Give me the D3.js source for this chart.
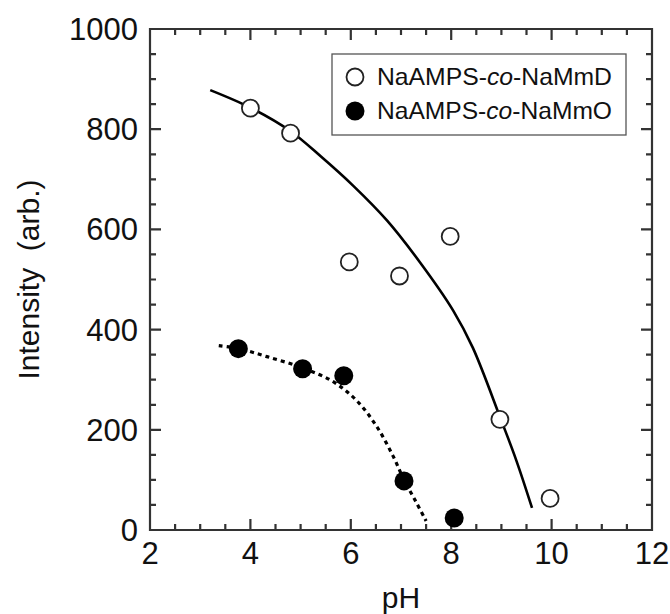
<!DOCTYPE html>
<html>
<head>
<meta charset="utf-8">
<script src="https://cdn.jsdelivr.net/npm/d3@7"></script>
<style>
  body { margin: 0; background: #fff; }
  svg { display: block; font-family: "Liberation Sans", Arial, Helvetica, sans-serif; }
</style>
</head>
<body>
<svg id="chart" width="670" height="614"></svg>
<script>
// ---- data ----
const phD = [4.0, 4.8, 5.97, 6.97, 7.98, 8.97, 9.97];
const intD = [842, 792, 535, 507, 586, 221, 63];
const phO = [3.76, 5.04, 5.86, 7.06, 8.06];
const intO = [362, 322, 308, 98, 24];
// fitted curves
const fitDx = [3.2, 4.0, 4.8, 5.4, 6.04, 6.72, 7.38, 8.04, 8.43, 8.97, 9.3, 9.61];
const fitDy = [878, 843, 796, 746, 688, 618, 534, 438, 364, 226, 138, 44];
const fitOx = [3.37, 3.77, 4.33, 5.03, 5.65, 6.12, 6.52, 6.84, 7.06, 7.3, 7.5];
const fitOy = [368, 362, 346, 324, 296, 258, 206, 148, 100, 56, 18];
const seriesNames = ["NaAMPS-", "co", "-NaMmD", "-NaMmO"];
const xMajor = [2, 4, 6, 8, 10, 12];
const yMajor = [0, 200, 400, 600, 800, 1000];
const xMinor = [2.5, 3, 3.5, 4.5, 5, 5.5, 6.5, 7, 7.5, 8.5, 9, 9.5, 10.5, 11, 11.5];
const yMinor = [50, 100, 150, 250, 300, 350, 450, 500, 550, 650, 700, 750, 850, 900, 950];

// ---- layout ----
const L = 150, R = 652, T = 29, B = 530;
const svg = d3.select("#chart");
const x = d3.scaleLinear().domain([2, 12]).range([L, R]);
const y = d3.scaleLinear().domain([0, 1000]).range([B, T]);
const frameColor = "#333";
const MAJ = 11, MIN = 6;

// frame + inward ticks, one path
const xt = xMajor.map(v => [v, MAJ]).concat(xMinor.map(v => [v, MIN]));
const yt = yMajor.map(v => [v, MAJ]).concat(yMinor.map(v => [v, MIN]));
let dStr = `M${L},${T}H${R}V${B}H${L}Z`;
xt.forEach(d => {
  const px = x(d[0]).toFixed(1);
  dStr += `M${px},${B}V${B - d[1]}M${px},${T}V${T + d[1]}`;
});
yt.forEach(d => {
  const py = y(d[0]).toFixed(1);
  dStr += `M${L},${py}H${L + d[1]}M${R},${py}H${R - d[1]}`;
});
svg.append("path").attr("d", dStr).attr("fill", "none")
  .attr("stroke", frameColor).attr("stroke-width", 2.2);

// tick labels
svg.append("g").selectAll("text").data(xMajor).join("text")
  .attr("x", d => x(d)).attr("y", B + 34).attr("text-anchor", "middle")
  .attr("font-size", 31).attr("fill", "#111").text(d => d);
svg.append("g").selectAll("text").data(yMajor).join("text")
  .attr("x", L - 12).attr("y", d => y(d) + 11).attr("text-anchor", "end")
  .attr("font-size", 31).attr("fill", "#111").text(d => d);

// axis titles
svg.append("text").attr("x", 401).attr("y", 608).attr("text-anchor", "middle")
  .attr("font-size", 30).attr("fill", "#111").text("pH");
svg.append("text").attr("transform", `translate(39,${(T + B) / 2}) rotate(-90)`)
  .attr("text-anchor", "middle").attr("font-size", 30).attr("fill", "#111")
  .style("white-space", "pre").text("Intensity  (arb.)");

// curves
const line = d3.line().x(d => x(d[0])).y(d => y(d[1])).curve(d3.curveCatmullRom.alpha(0.5));
svg.append("path").datum(d3.zip(fitDx, fitDy)).attr("d", line)
  .attr("fill", "none").attr("stroke", "#000").attr("stroke-width", 2.6);
svg.append("path").datum(d3.zip(fitOx, fitOy)).attr("d", line)
  .attr("fill", "none").attr("stroke", "#000").attr("stroke-width", 3.2)
  .attr("stroke-dasharray", "4,4");

// points
svg.append("g").selectAll("circle").data(d3.zip(phD, intD)).join("circle")
  .attr("cx", d => x(d[0])).attr("cy", d => y(d[1])).attr("r", 8.5)
  .attr("fill", "#fff").attr("stroke", "#222").attr("stroke-width", 1.8);
svg.append("g").selectAll("circle").data(d3.zip(phO, intO)).join("circle")
  .attr("cx", d => x(d[0])).attr("cy", d => y(d[1])).attr("r", 9.5)
  .attr("fill", "#000");

// legend
const lg = svg.append("g");
lg.append("rect").attr("x", 332).attr("y", 54).attr("width", 294).attr("height", 81)
  .attr("fill", "#fff").attr("stroke", "#555").attr("stroke-width", 1.3);
const items = [
  { open: true, label: seriesNames[2] },
  { open: false, label: seriesNames[3] }
];
items.forEach((it, i) => {
  const cy = 77 + i * 34;
  lg.append("circle").attr("cx", 355).attr("cy", cy).attr("r", it.open ? 8.5 : 9.5)
    .attr("fill", it.open ? "#fff" : "#000").attr("stroke", it.open ? "#222" : "none")
    .attr("stroke-width", 1.8);
  const t = lg.append("text").attr("x", 377).attr("y", cy + 8).attr("font-size", 24).attr("fill", "#111")
    .attr("textLength", 235).attr("lengthAdjust", "spacingAndGlyphs");
  t.append("tspan").text(seriesNames[0]);
  t.append("tspan").attr("font-style", "italic").text(seriesNames[1]);
  t.append("tspan").text(it.label);
});
</script>
</body>
</html>
